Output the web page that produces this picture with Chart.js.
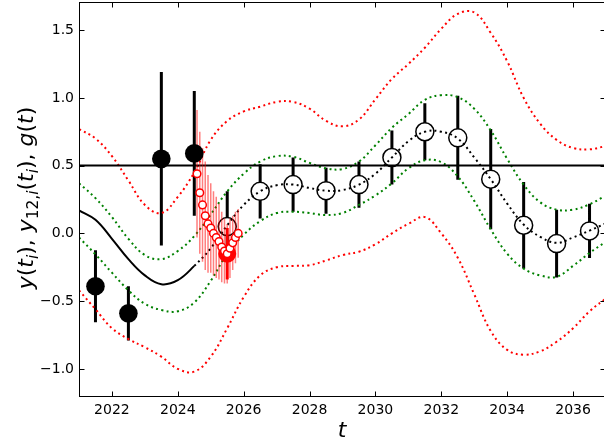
<!DOCTYPE html>
<html>
<head>
<meta charset="utf-8">
<script src="https://cdn.jsdelivr.net/npm/chart.js@4.4.1/dist/chart.umd.min.js"></script>
<style>
  html, body { margin: 0; padding: 0; background: #fff; }
</style>
</head>
<body>
<canvas id="fcChart" width="604" height="442"></canvas>
<script>
// model curve g(t) and its bands on a half-year grid
const years = [2021, 2021.5, 2022, 2022.5, 2023, 2023.5, 2024, 2024.5, 2025, 2025.5,
  2026, 2026.5, 2027, 2027.5, 2028, 2028.5, 2029, 2029.5, 2030, 2030.5, 2031, 2031.5,
  2032, 2032.5, 2033, 2033.5, 2034, 2034.5, 2035, 2035.5, 2036, 2036.5, 2037];
const gMean = [0.17, 0.10, -0.04, -0.19, -0.31, -0.375, -0.345, -0.24, -0.11, 0.06,
  0.21, 0.31, 0.355, 0.36, 0.335, 0.315, 0.32, 0.36, 0.44, 0.56, 0.68, 0.75,
  0.75, 0.70, 0.56, 0.40, 0.22, 0.065, -0.025, -0.07, -0.03, 0.02, 0.075];
const innerHi = [0.37, 0.26, 0.12, -0.04, -0.16, -0.19, -0.13, -0.02, 0.14, 0.31,
  0.44, 0.53, 0.57, 0.565, 0.52, 0.48, 0.475, 0.53, 0.65, 0.78, 0.88, 0.985,
  1.02, 1.005, 0.92, 0.76, 0.55, 0.36, 0.23, 0.175, 0.175, 0.215, 0.28];
const innerLo = [-0.03, -0.155, -0.29, -0.42, -0.52, -0.565, -0.575, -0.51, -0.35, -0.15,
  -0.01, 0.09, 0.15, 0.16, 0.15, 0.135, 0.15, 0.21, 0.28, 0.37, 0.48, 0.54,
  0.525, 0.42, 0.24, 0.03, -0.15, -0.26, -0.31, -0.32, -0.24, -0.145, -0.06];
const outerHi = [0.77, 0.70, 0.57, 0.39, 0.21, 0.15, 0.27, 0.45, 0.69, 0.83,
  0.90, 0.935, 0.97, 0.97, 0.92, 0.83, 0.79, 0.84, 0.99, 1.14, 1.25, 1.37,
  1.51, 1.62, 1.63, 1.48, 1.27, 1.00, 0.81, 0.69, 0.63, 0.62, 0.645];
const outerLo = [-0.42, -0.56, -0.70, -0.78, -0.84, -0.91, -1.00, -1.02, -0.91, -0.70,
  -0.47, -0.31, -0.25, -0.24, -0.235, -0.20, -0.16, -0.135, -0.08, 0.0, 0.07, 0.12,
  0.0, -0.18, -0.45, -0.72, -0.86, -0.895, -0.87, -0.80, -0.70, -0.575, -0.48];
const forecastStart = 2024.5;
const refLevel = 0.5;

// yearly observations y(t_i)
const obsT = [2021.5, 2022.5, 2023.5, 2024.5];
const obsY = [-0.39, -0.59, 0.55, 0.59];
const obsErr = [0.265, 0.2, 0.64, 0.46];

// yearly predictions y_12,i(t_i)
const predT = [2025.5, 2026.5, 2027.5, 2028.5, 2029.5, 2030.5, 2031.5, 2032.5, 2033.5, 2034.5, 2035.5, 2036.5];
const predY = [0.05, 0.31, 0.36, 0.315, 0.36, 0.56, 0.75, 0.705, 0.40, 0.06, -0.075, 0.018];
const predErr = [0.26, 0.2, 0.2, 0.17, 0.17, 0.2, 0.21, 0.31, 0.37, 0.32, 0.25, 0.2];

// monthly values of the running year
const monthT = [2024.583, 2024.667, 2024.75, 2024.833, 2024.917, 2025.0, 2025.083, 2025.167,
  2025.25, 2025.333, 2025.417, 2025.5, 2025.583, 2025.667, 2025.75, 2025.833];
const monthY = [0.44, 0.30, 0.21, 0.13, 0.07, 0.04, 0.0, -0.03, -0.06, -0.10, -0.13, -0.15, -0.11, -0.07, -0.03, 0.0];
const monthErr = [0.47, 0.45, 0.42, 0.40, 0.36, 0.33, 0.31, 0.30, 0.28, 0.26, 0.24, 0.22, 0.22, 0.20, 0.19, 0.18];

// mean of the monthly values
const avgT = [2025.5];
const avgY = [-0.15];
const avgErr = [0.19];

// axis ranges and tick labels
const xMin = 2021, xMax = 2037, yMin = -1.2, yMax = 1.7;
const xTicks = [2022, 2024, 2026, 2028, 2030, 2032, 2034, 2036];
const yTicks = [-1.0, -0.5, 0.0, 0.5, 1.0, 1.5];

const dotted = [2, 3.3];
const pointsOf = (ts, ys) => ts.map((t, i) => ({ x: t, y: ys[i] }));
// vertical error bars as broken line segments
function barSegments(ts, ys, es) {
  const pts = [];
  ts.forEach((t, i) => {
    pts.push({ x: t, y: ys[i] - es[i] }, { x: t, y: ys[i] + es[i] }, { x: t, y: null });
  });
  return pts;
}
function curve(vals, color, order, extra) {
  return Object.assign({
    data: pointsOf(years, vals), showLine: true, borderColor: color, borderWidth: 2,
    borderDash: dotted, borderCapStyle: 'butt', pointRadius: 0, tension: 0.4, order: order
  }, extra || {});
}

const yLabelParts = [['y', 'i'], ['(', 'r'], ['t', 'i'], ['i', 'si'], [')', 'r'], [',', 'r'], [' ', 'r'],
  ['y', 'i'], ['12', 'sr'], [',', 'sr'], ['i', 'si'], ['(', 'r'], ['t', 'i'], ['i', 'si'], [')', 'r'],
  [',', 'r'], [' ', 'r'], ['g', 'i'], ['(', 'r'], ['t', 'i'], [')', 'r']];

function mathFont(style, size) {
  const sub = style[0] === 's';
  const it = style.indexOf('i') >= 0;
  return (it ? 'italic ' : '') + (sub ? size * 0.7 : size) + 'px "DejaVu Sans"';
}

// plot box in canvas pixels; it runs a little past the canvas on the right
const plotBox = { left: 79, right: 606, top: 3, bottom: 396 };

const framePlugin = {
  id: 'frame',
  afterLayout(chart) {
    const { x, y } = chart.scales;
    x.left = plotBox.left; x.right = plotBox.right; x.width = x.right - x.left;
    x.configure();
    y.top = plotBox.top; y.bottom = plotBox.bottom; y.height = y.bottom - y.top;
    y.configure();
    Object.assign(chart.chartArea, plotBox, {
      width: plotBox.right - plotBox.left, height: plotBox.bottom - plotBox.top
    });
  },
  afterDraw(chart) {
    const { ctx, chartArea: a, scales: { x, y } } = chart;
    ctx.save();
    ctx.strokeStyle = '#000';
    ctx.lineWidth = 1;
    const L = Math.round(a.left) + 0.5, R = Math.round(a.right) - 0.5;
    const T = Math.round(a.top) - 0.5, B = Math.round(a.bottom) + 0.5;
    ctx.strokeRect(L, T, R - L, B - T);
    const len = 5;
    ctx.beginPath();
    x.ticks.forEach(tk => {
      const p = Math.round(x.getPixelForValue(tk.value)) + 0.5;
      ctx.moveTo(p, B); ctx.lineTo(p, B - len);
      ctx.moveTo(p, T); ctx.lineTo(p, T + len);
    });
    y.ticks.forEach(tk => {
      const p = Math.round(y.getPixelForValue(tk.value)) + 0.5;
      ctx.moveTo(L, p); ctx.lineTo(L + len, p);
      ctx.moveTo(R, p); ctx.lineTo(R - len, p);
    });
    ctx.stroke();

    // axis titles
    ctx.fillStyle = '#000';
    ctx.textBaseline = 'alphabetic';
    const size = 22;
    ctx.font = mathFont('i', size);
    ctx.textAlign = 'center';
    ctx.fillText('t', 342, 437);

    ctx.textAlign = 'left';
    let w = 0;
    yLabelParts.forEach(([s, st]) => { ctx.font = mathFont(st, size); w += ctx.measureText(s).width; });
    ctx.translate(33, 198);
    ctx.rotate(-Math.PI / 2);
    let cx = -w / 2;
    yLabelParts.forEach(([s, st]) => {
      ctx.font = mathFont(st, size);
      ctx.fillText(s, cx, st[0] === 's' ? size * 0.22 : 0);
      cx += ctx.measureText(s).width;
    });
    ctx.restore();
  }
};

const tickFont = { family: 'DejaVu Sans', size: 14 };

new Chart(document.getElementById('fcChart').getContext('2d'), {
  type: 'scatter',
  data: {
    datasets: [
      // small monthly markers
      { data: pointsOf(monthT, monthY), pointRadius: 3.8, pointBorderWidth: 1.5,
        pointBorderColor: '#ff0000', pointBackgroundColor: '#ffffff', order: 1 },
      // monthly mean
      { data: pointsOf(avgT, avgY), pointRadius: 9, pointBorderWidth: 0,
        pointBackgroundColor: '#ff0000', order: 2 },
      // observations
      { data: pointsOf(obsT, obsY), pointRadius: 9.3, pointBorderWidth: 0,
        pointBackgroundColor: '#000000', order: 3 },
      { data: barSegments(avgT, avgY, avgErr), showLine: true, borderColor: '#ff0000',
        borderWidth: 3, pointRadius: 0, spanGaps: false, order: 4 },
      { data: barSegments(monthT, monthY, monthErr), showLine: true, borderColor: 'rgba(255,0,0,0.5)',
        borderWidth: 1.5, pointRadius: 0, spanGaps: false, order: 5 },
      // g(t): solid over the past, dotted over the forecast
      curve(gMean, '#000000', 6, {
        borderDash: [],
        segment: { borderDash: c => (c.p0.parsed.x >= forecastStart ? dotted : []) }
      }),
      { data: [{ x: xMin, y: refLevel }, { x: xMax, y: refLevel }], showLine: true,
        borderColor: '#000000', borderWidth: 2, pointRadius: 0, order: 6 },
      curve(innerHi, '#008000', 7),
      curve(innerLo, '#008000', 7),
      curve(outerHi, '#ff0000', 7),
      curve(outerLo, '#ff0000', 7),
      // predictions
      { data: pointsOf(predT, predY), pointRadius: 9, pointBorderWidth: 1.5,
        pointBorderColor: '#000000', pointBackgroundColor: '#ffffff', order: 8 },
      { data: barSegments(obsT, obsY, obsErr), showLine: true, borderColor: '#000000',
        borderWidth: 3, pointRadius: 0, spanGaps: false, order: 9 },
      { data: barSegments(predT, predY, predErr), showLine: true, borderColor: '#000000',
        borderWidth: 3, pointRadius: 0, spanGaps: false, order: 9 }
    ]
  },
  options: {
    responsive: false,
    animation: false,
    events: [],
    layout: { padding: { left: 0, right: 0, top: 3, bottom: 0 } },
    plugins: { legend: { display: false }, tooltip: { enabled: false } },
    scales: {
      x: {
        type: 'linear', min: xMin, max: xMax,
        grid: { display: false, drawTicks: false },
        border: { display: false },
        ticks: { autoSkip: false, maxRotation: 0, padding: 6, color: '#000', font: tickFont,
          callback: v => String(v) },
        afterBuildTicks: s => { s.ticks = xTicks.map(v => ({ value: v })); },
        afterFit: s => { s.height = 46; }
      },
      y: {
        type: 'linear', min: yMin, max: yMax,
        grid: { display: false, drawTicks: false },
        border: { display: false },
        ticks: { padding: 5, color: '#000', font: tickFont,
          callback: v => (v < 0 ? '\u2212' : '') + Math.abs(v).toFixed(1) },
        afterBuildTicks: s => { s.ticks = yTicks.map(v => ({ value: v })); },
        afterFit: s => { s.width = 79; }
      }
    }
  },
  plugins: [framePlugin]
});
</script>
</body>
</html>
